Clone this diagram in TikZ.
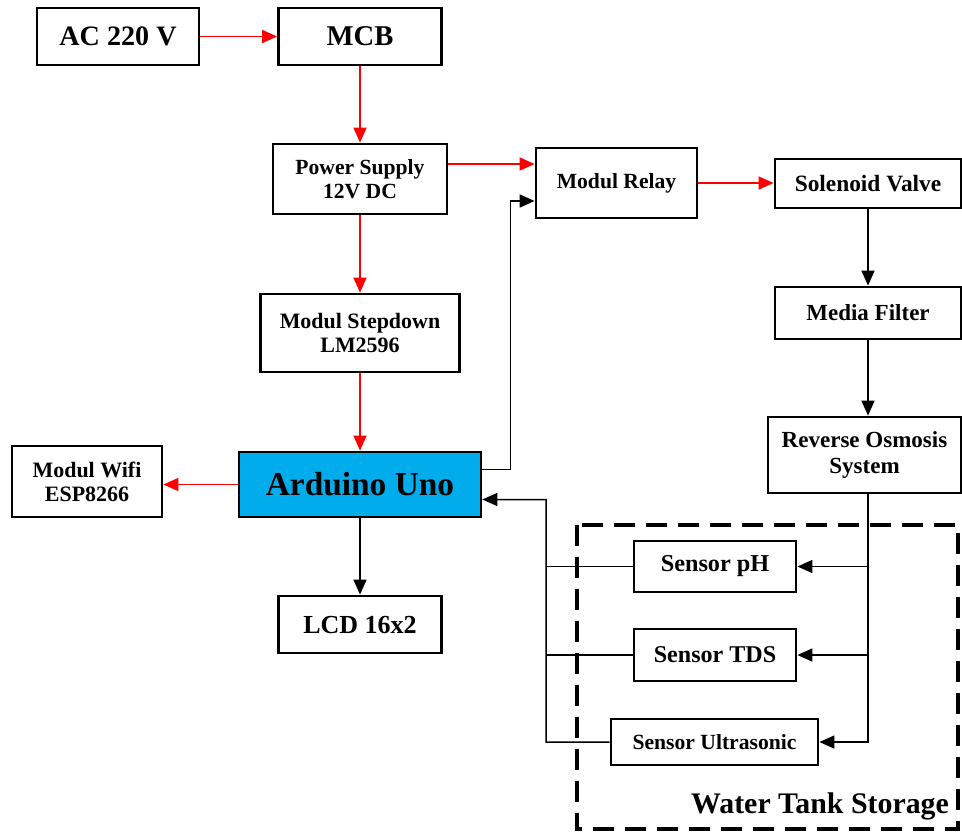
\documentclass[tikz,border=0pt]{standalone}
\usepackage{fontspec}
\setmainfont{Liberation Serif}
\usetikzlibrary{arrows.meta}
\definecolor{unoblue}{RGB}{0,172,236}
\tikzset{
  bloque/.style={draw, line width=1.6pt, fill=white, align=center, inner sep=2pt},
  fuerza/.style={draw=red, line width=0.85pt, -{Triangle[length=0.3cm,width=0.26cm]}},
  senal/.style={draw=black, line width=0.85pt, -{Triangle[length=0.3cm,width=0.26cm]}},
  linea/.style={draw=black, line width=0.85pt},
  tanque/.style={draw, line width=2.6pt, dash pattern=on 0.42cm off 0.22cm}
}
\begin{document}
\begin{tikzpicture}[x=0.02cm,y=-0.02cm]
\useasboundingbox (0,0) rectangle (962,833);
\draw[tanque] (577,525) rectangle (958,829); %tanque de agua
\node[font=\fontsize{17}{19}\selectfont\bfseries] (tanklabel) at (820,806) {Water Tank Storage}; %etiqueta del tanque
\node[bloque, minimum width=3.24cm, minimum height=1.14cm, font=\fontsize{16}{18}\selectfont\bfseries] (ac) at (118,36.5) {AC 220 V};
\node[bloque, minimum width=3.26cm, minimum height=1.14cm, font=\fontsize{16.3}{18}\selectfont\bfseries] (mcb) at (360,36.5) {MCB};
\node[bloque, minimum width=3.48cm, minimum height=1.40cm, font=\fontsize{12.3}{13.5}\selectfont\bfseries] (ps) at (360,179) {Power Supply\\12V DC};
\node[bloque, minimum width=3.22cm, minimum height=1.40cm, font=\fontsize{12.3}{14}\selectfont\bfseries] (relay) at (616.5,183) {Modul Relay};
\node[bloque, minimum width=3.72cm, minimum height=0.98cm, font=\fontsize{13.3}{15}\selectfont\bfseries] (valve) at (868,183.5) {Solenoid Valve};
\node[bloque, minimum width=3.72cm, minimum height=1.04cm, font=\fontsize{13.1}{15}\selectfont\bfseries] (filter) at (868,313) {Media Filter};
\node[bloque, minimum width=3.86cm, minimum height=1.52cm, font=\fontsize{13.1}{14.6}\selectfont\bfseries] (ro) at (864.5,455) {Reverse Osmosis\\System};
\node[bloque, minimum width=3.98cm, minimum height=1.56cm, font=\fontsize{12.5}{13.5}\selectfont\bfseries] (stepdown) at (360,333) {Modul Stepdown\\LM2596};
\node[bloque, fill=unoblue, minimum width=4.84cm, minimum height=1.30cm, font=\fontsize{19}{21}\selectfont\bfseries] (uno) at (360,484.5) {Arduino Uno}; %arduino
\node[bloque, minimum width=3.00cm, minimum height=1.42cm, font=\fontsize{12.5}{13.5}\selectfont\bfseries] (wifi) at (87,481.5) {Modul Wifi\\ESP8266};
\node[bloque, minimum width=3.26cm, minimum height=1.14cm, font=\fontsize{14.8}{17}\selectfont\bfseries] (lcd) at (360,624.5) {LCD 16x2};
\node[bloque, minimum width=3.24cm, minimum height=1.02cm, font=\fontsize{13.8}{16}\selectfont\bfseries] (ph) at (715,566.5) {Sensor pH};
\node[bloque, minimum width=3.24cm, minimum height=1.04cm, font=\fontsize{13.7}{16}\selectfont\bfseries] (tds) at (715,655) {Sensor TDS};
\node[bloque, minimum width=4.14cm, minimum height=0.92cm, font=\fontsize{12.3}{14}\selectfont\bfseries] (ultra) at (714.5,742) {Sensor Ultrasonic};
% lineas de potencia
\draw[fuerza] (ac.east) -- (mcb.west);
\draw[fuerza] (mcb.south) -- (ps.north);
\draw[fuerza] ([yshift=0.3cm]ps.east) -- ([yshift=0.3cm]ps.east -| relay.west);
\draw[fuerza] (ps.south) -- (stepdown.north);
\draw[fuerza] (stepdown.south) -- (uno.north);
\draw[fuerza] (uno.west) -- (uno.west -| wifi.east);
\draw[fuerza] (relay.east) -- (relay.east -| valve.west);
% lineas de control
\coordinate (relayin) at ([yshift=-0.36cm]relay.west); %entrada del relay
\draw[senal] ([yshift=0.3cm]uno.east) -- ++(28,0) |- (relayin);
\draw[senal] (uno.south) -- (lcd.north);
\draw[senal] (valve.south) -- (filter.north);
\draw[senal] (filter.south) -- (ro.north -| filter.south);
\draw[senal] (ro.south -| filter.south) |- (ultra.east);
\draw[senal] (ph.east -| filter.south) -- (ph.east);
\draw[senal] (tds.east -| filter.south) -- (tds.east);
\coordinate (sensbus) at (546,499.5); %bus de sensores
\draw[senal] (ultra.west) -| (sensbus) -- ([yshift=-0.3cm]uno.east);
\draw[linea] (ph.west) -- (ph.west -| sensbus);
\draw[linea] (tds.west) -- (tds.west -| sensbus);
\end{tikzpicture}
\end{document}
